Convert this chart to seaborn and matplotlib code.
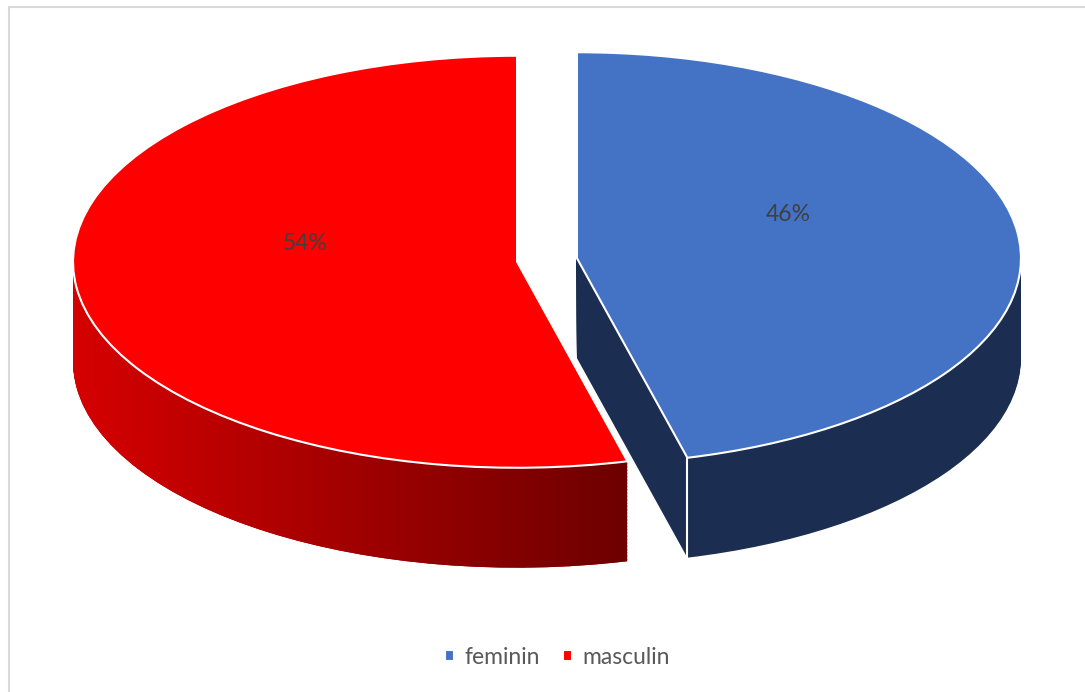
import numpy as np
import matplotlib
matplotlib.use("Agg")
import matplotlib.pyplot as plt
from matplotlib.path import Path
from matplotlib.lines import Line2D
from matplotlib.colors import LinearSegmentedColormap
import seaborn as sns

# date
labels = ["feminin", "masculin"]
shares = [46, 54]
top_colors = ["#4472C4", "#FF0000"]
side_colors = ["#1B2D50", "#A00000"]

sns.set_style("white")
plt.rcParams["font.family"] = ["Lato", "DejaVu Sans"]

fig = plt.figure(figsize=(10.85, 6.92), dpi=100)
ax = fig.add_axes([0, 0, 1, 1])

depth = 0.485
explode = [0.068, 0.068]

# peretii laterali: acelasi pie desenat in straturi, de jos in sus
red_paths = []
for d in np.linspace(depth, 0.005, 70):
    side, _ = ax.pie(shares, colors=side_colors, startangle=90, counterclock=False,
                     explode=explode, center=(0, -d),
                     wedgeprops=dict(linewidth=0))
    red_paths.append(side[1].get_path())

# gradient pe peretele rosu
red_cmap = LinearSegmentedColormap.from_list("red_side", ["#D60000", "#6C0000"])
grad = np.linspace(0, 1, 256).reshape(1, -1)
im = ax.imshow(grad, cmap=red_cmap, extent=(-1.07, 0.2, -1.6, 0.3), aspect="auto", zorder=2)
im.set_clip_path(Path.make_compound_path(*red_paths), ax.transData)

# fata de sus
top, _, pct = ax.pie(shares, colors=top_colors, startangle=90, counterclock=False,
                     explode=explode, autopct="%1.0f%%", pctdistance=0.48,
                     wedgeprops=dict(edgecolor="white", linewidth=1.5, zorder=3),
                     textprops=dict(color="#404040", fontsize=16.5))
for t in pct:
    x, y = t.get_position()
    t.set_position((x, y + 0.15))
    t.set_zorder(5)

# muchia verticala a felii albastre
b = top[0]
ang = np.deg2rad(b.theta1)
cx = b.center[0] + b.r * np.cos(ang)
cy = b.center[1] + b.r * np.sin(ang)
ax.plot([cx, cx], [cy, cy - depth], color="white", lw=1.5, zorder=2.5)

ax.legend(top, labels, loc="center", bbox_to_anchor=(0.514, 0.05), ncol=2, frameon=False,
          handlelength=0.4, handleheight=0.4, handletextpad=0.45, columnspacing=1.0,
          fontsize=16.5, labelcolor="#595959")

ax.set_xlim(-547 / 444, (1085 - 547) / 444)
ax.set_ylim((260 - 692) / 206, 260 / 206)
ax.set_aspect("auto")
ax.axis("off")

# chenarul graficului
fig.add_artist(Line2D([8.5 / 1085, 8.5 / 1085], [0, 1 - 6.5 / 692], color="#D9D9D9", lw=1.5))
fig.add_artist(Line2D([8.5 / 1085, 1], [1 - 6.5 / 692, 1 - 6.5 / 692], color="#D9D9D9", lw=1.5))

fig.savefig("out.png", dpi=100)
